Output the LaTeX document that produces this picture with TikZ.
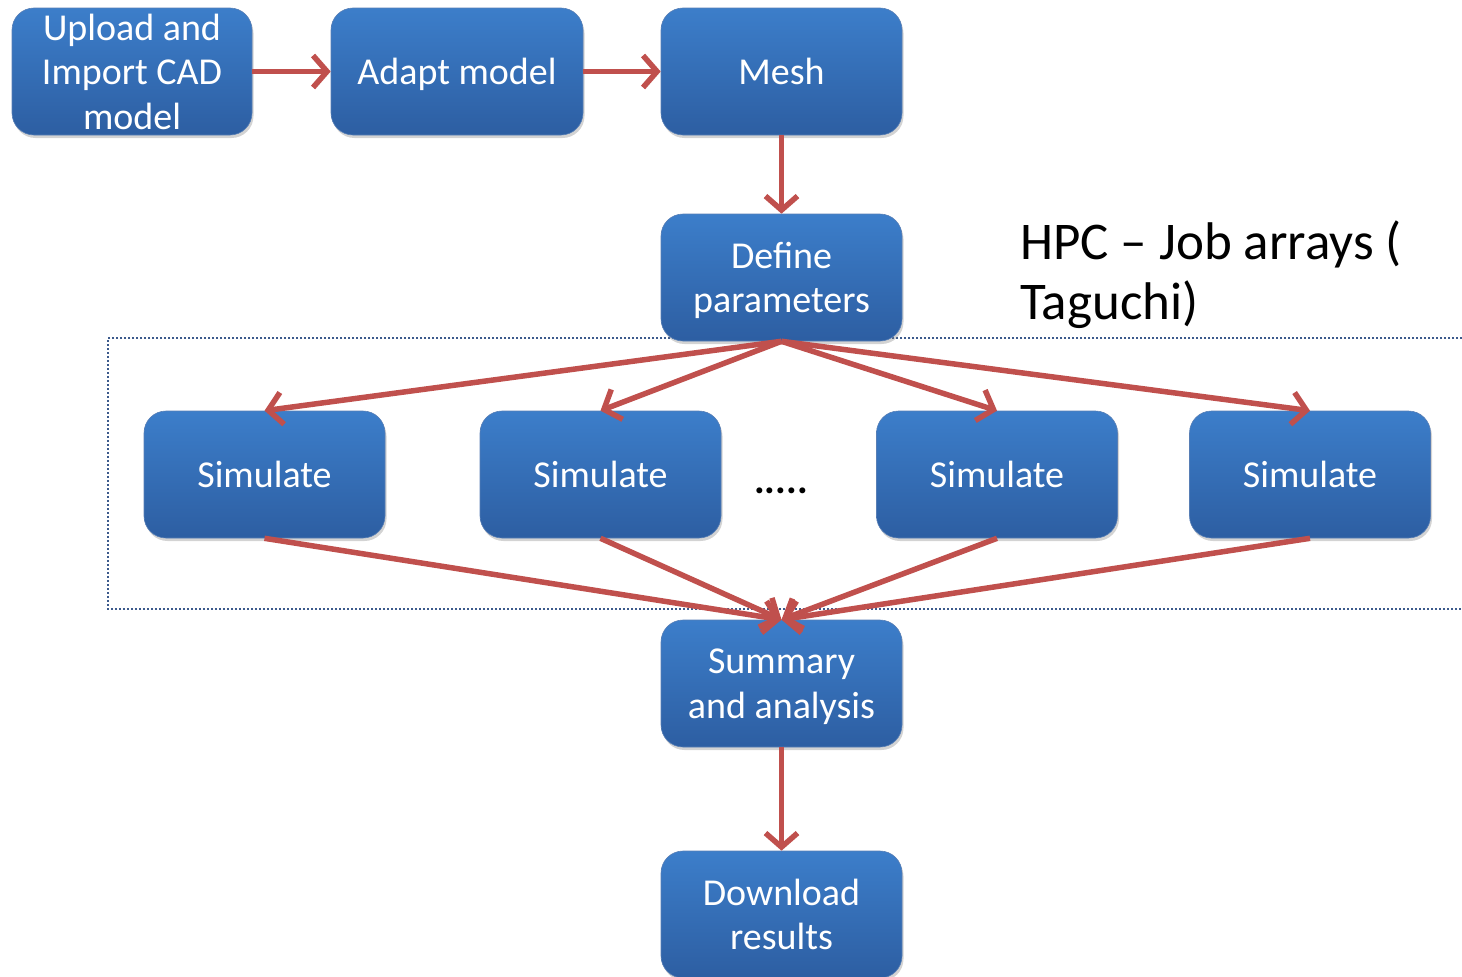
\documentclass[tikz,border=0pt]{standalone}
\usepackage{fontspec}
\setmainfont{Carlito}
\usetikzlibrary{arrows.meta,shadows}
\definecolor{boxtop}{RGB}{60,126,202}
\definecolor{boxbot}{RGB}{45,94,162}
\definecolor{arrowred}{RGB}{192,80,77}
\definecolor{dotblue}{RGB}{60,90,140}
\tikzset{
  box/.style={rounded corners=22pt, top color=boxtop, bottom color=boxbot,
    draw=boxbot!80, line width=0.6pt,
    minimum width=241pt, minimum height=127pt, text=white, align=center,
    font=\fontsize{38}{44.5}\selectfont, inner sep=0pt, text depth=0pt,
    drop shadow={opacity=0.35, shadow xshift=1.5pt, shadow yshift=-3pt}},
  conn/.style={draw=arrowred, line width=5.5pt,
    -{Straight Barb[length=14pt, width=32pt, line width=5.5pt]}},
}
\begin{document}
\begin{tikzpicture}[x=1pt,y=1pt]
\useasboundingbox (0,0) rectangle (1462,-977);
% dotted frame
\draw[dotblue, line width=2pt, dash pattern=on 2pt off 2pt] (1462,-338) -- (108,-338) -- (108,-609) -- (1462,-609);
\node[box, minimum width=240pt] (up) at (132,-71.5) {Upload and\\Import CAD\\model};
\node[box, minimum width=252pt] (ad) at (457,-71.5) {Adapt model};
\node[box] (me) at (781.5,-71.5) {Mesh};
\node[box] (de) at (781.5,-277.5) {Define\\parameters};
\node[box] (s1) at (264.5,-474.5) {Simulate};
\node[box] (s2) at (600.5,-474.5) {Simulate};
\node[box] (s3) at (997,-474.5) {Simulate};
\node[box] (s4) at (1310,-474.5) {Simulate};
\node[box] (su) at (781.5,-683.5) {Summary\\and analysis};
\node[box] (dl) at (781.5,-914.5) {Download\\results};
\node[font=\fontsize{40}{44}\bfseries\selectfont] (dots) at (781,-491) {.....};
\node[anchor=north west, align=left, font=\fontsize{53}{60}\selectfont, inner sep=0pt] (hpc) at (1020,-221) {HPC -- Job arrays (\\Taguchi)};
\draw[conn] (up.east) -- (ad.west);
\draw[conn] (ad.east) -- (me.west);
\draw[conn] (me.south) -- (de.north);
\foreach \s in {s1,s2,s3,s4}{
  \draw[conn] (de.south) -- (\s.north);
  \draw[conn] (\s.south) -- (su.north);
}
\draw[conn] (su.south) -- (dl.north);
\end{tikzpicture}
\end{document}
